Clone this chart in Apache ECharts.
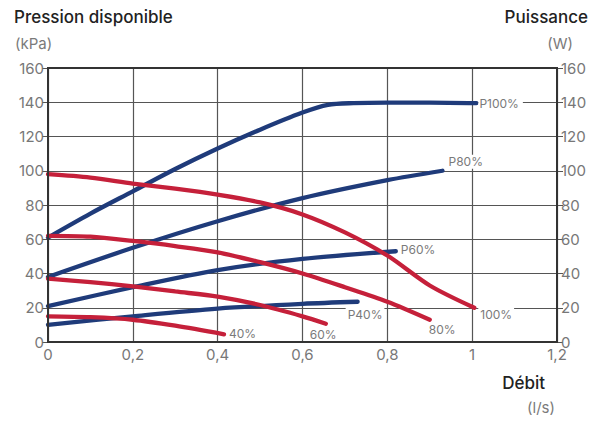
<!DOCTYPE html>
<html><head><meta charset="utf-8">
<script src="https://cdn.jsdelivr.net/npm/echarts@6/dist/echarts.min.js"></script>
<style>html,body{margin:0;padding:0;background:#fff}#c{width:593px;height:421px}</style>
</head><body><div id="c"></div>
<script>
// Débit (l/s) / valeurs
const xTicks = ['0','0,2','0,4','0,6','0,8','1','1,2'];
const yTicks = [0,20,40,60,80,100,120,140,160];

// Puissance (W) – courbes bleues
const p100x = [0,0.1,0.2,0.3,0.4,0.5,0.6,0.66,0.72,0.8,0.9,1.01];
const p100y = [61,75,88,101,113,124,134,138.5,139.5,139.8,139.8,139.5];
const p80x = [0,0.2,0.4,0.6,0.8,0.93];
const p80y = [38,55,70.5,84,94.5,100];
const p60x = [0,0.2,0.4,0.6,0.82];
const p60y = [21,32,42,48.5,53];
const p40x = [0,0.2,0.4,0.6,0.73];
const p40y = [10,15,19.5,22.3,23.5];

// Pression disponible (kPa) – courbes rouges
const h100x = [0,0.1,0.2,0.3,0.4,0.5,0.6,0.7,0.8,0.9,1.005];
const h100y = [98,96,92.5,89.5,86,81.5,74.5,64,50.5,33,20];
const h80x = [0,0.1,0.2,0.3,0.4,0.5,0.6,0.7,0.8,0.9];
const h80y = [62,61.5,59,56,52.4,46.6,40,32,23.5,13];
const h60x = [0,0.1,0.2,0.3,0.4,0.5,0.6,0.655];
const h60y = [37,35,32.5,29.5,26.5,21.6,15,10.7];
const h40x = [0,0.1,0.2,0.3,0.415];
const h40y = [15,14.5,13,9.5,4.5];

const BLUE = '#1f3b7a', RED = '#c5203a';
const FONT = 'Inter';
const zip = (a,b) => a.map((v,i)=>[v,b[i]]);

function mk(name, xs, ys, color, yIdx, lab) {
  return {
    name, type:'line', xAxisIndex:0, yAxisIndex:yIdx,
    data: zip(xs, ys), smooth:0.3, showSymbol:false, silent:true,
    lineStyle:{color, width:4.3, cap:'round'}, z: yIdx===1?3:4,
    endLabel:Object.assign({show:true, formatter:lab.text, color:'#7a7a7a', fontSize:12,
      fontFamily:FONT, backgroundColor:'#fff', padding:[1,2]}, lab.opt)
  };
}

const chart = echarts.init(document.getElementById('c'), null, {renderer:'svg'});
chart.setOption({
  animation:false,
  textStyle:{fontFamily:FONT},
  grid:{left:48, right:36, top:68, bottom:79, show:true, borderColor:'#333', borderWidth:2, backgroundColor:'transparent', z:5},
  xAxis:{type:'value', min:0, max:1.2, interval:0.2,
    axisLine:{show:false}, axisTick:{show:false},
    axisLabel:{color:'#777', fontSize:15, margin:5, formatter:(v)=>xTicks[Math.round(v/0.2)]},
    splitLine:{show:true, lineStyle:{color:'#555', width:1.2}}},
  yAxis:[
    {type:'value', min:0, max:160, interval:20, position:'left',
     axisLine:{show:false}, axisTick:{show:true, length:6, lineStyle:{color:'#555'}},
     axisLabel:{color:'#777', fontSize:15, margin:4, formatter:(v)=>String(yTicks[Math.round(v/20)])},
     splitLine:{show:true, lineStyle:{color:'#555', width:1.2}}},
    {type:'value', min:0, max:160, interval:20, position:'right',
     axisLine:{show:false}, axisTick:{show:true, length:6, lineStyle:{color:'#555'}},
     axisLabel:{color:'#777', fontSize:15, margin:4, formatter:(v)=>String(yTicks[Math.round(v/20)])},
     splitLine:{show:false}}
  ],
  graphic:[
    {type:'text', left:14, top:8, style:{text:'Pression disponible', fontSize:17, fontWeight:500, fill:'#222', fontFamily:FONT}},
    {type:'text', left:15, top:36, style:{text:'(kPa)', fontSize:15, fill:'#7a7a7a', fontFamily:FONT}},
    {type:'text', right:5, top:8, style:{text:'Puissance', fontSize:17, fontWeight:500, fill:'#222', fontFamily:FONT}},
    {type:'text', right:20, top:36, style:{text:'(W)', fontSize:15, fill:'#7a7a7a', fontFamily:FONT}},
    {type:'text', right:48, top:374, style:{text:'Débit', fontSize:17, fontWeight:500, fill:'#222', fontFamily:FONT}},
    {type:'text', right:38, top:400, style:{text:'(l/s)', fontSize:15, fill:'#7a7a7a', fontFamily:FONT}}
  ],
  series:[
    mk('P100%', p100x, p100y, BLUE, 1, {text:'P100%', opt:{distance:2, padding:[1,4,1,1]}}),
    mk('P80%', p80x, p80y, BLUE, 1, {text:'P80%', opt:{distance:2, offset:[2,-9]}}),
    mk('P60%', p60x, p60y, BLUE, 1, {text:'P60%', opt:{distance:3, offset:[0,-2]}}),
    mk('P40%', p40x, p40y, BLUE, 1, {text:'P40%', opt:{distance:0, offset:[-12,13]}}),
    mk('100%', h100x, h100y, RED, 0, {text:'100%', opt:{distance:4, offset:[0,7]}}),
    mk('80%', h80x, h80y, RED, 0, {text:'80%', opt:{distance:0, offset:[-3,10]}}),
    mk('60%', h60x, h60y, RED, 0, {text:'60%', opt:{distance:0, offset:[-18,11]}}),
    mk('40%', h40x, h40y, RED, 0, {text:'40%', opt:{distance:3, offset:[0,-1]}})
  ]
});
</script></body></html>
